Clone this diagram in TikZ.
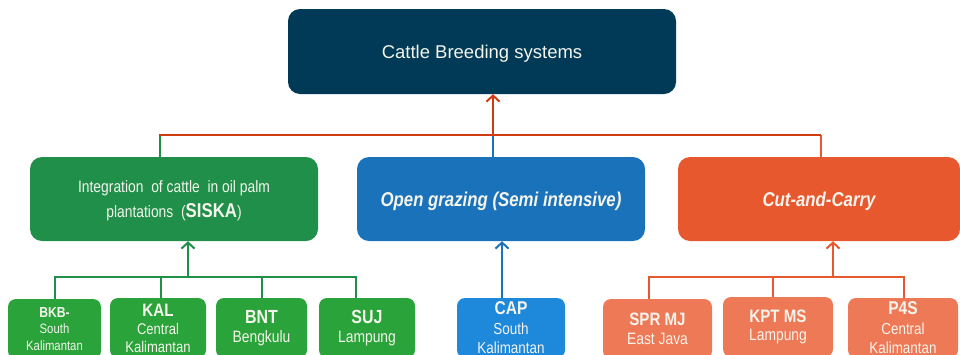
\documentclass[tikz,border=0pt]{standalone}
\usepackage{fontspec}
\setmainfont{Liberation Sans}
\newfontfamily\narrow{Liberation Sans}[FakeStretch=0.84]
\usetikzlibrary{arrows.meta}
\definecolor{navy}{HTML}{003A57}
\definecolor{gdark}{HTML}{1F8F4A}
\definecolor{gbright}{HTML}{2AA33A}
\definecolor{bdark}{HTML}{1A72BA}
\definecolor{bbright}{HTML}{1E88DA}
\definecolor{odark}{HTML}{E8582E}
\definecolor{osalmon}{HTML}{EE7956}
\definecolor{redline}{HTML}{D13A0F}
\definecolor{txt}{HTML}{F4F4EC}
\tikzset{
  box/.style={rounded corners=12pt, draw=none, text=txt, align=center, inner sep=0pt},
  small/.style={rounded corners=8pt, draw=none, text=txt, align=center, inner sep=0pt, minimum height=60pt},
  conn/.style={line width=2pt},
  arr/.style={line width=2pt, -{Straight Barb[length=6pt,width=13pt,line width=2pt]}},
  f3/.style={font=\narrow\fontsize{16}{19.5}\selectfont},
  f2/.style={font=\narrow\fontsize{16.5}{19.5}\selectfont},
}
\begin{document}
\begin{tikzpicture}[x=1pt,y=-1pt]
\useasboundingbox (0,0) rectangle (960,354);
\clip (0,0) rectangle (960,354);
% main boxes
\node[box, fill=navy, minimum width=388pt, minimum height=85pt, text depth=0pt, font=\fontsize{18.5}{22}\selectfont] (top) at (482,51.5) {Cattle Breeding systems};
\node[box, fill=gdark, minimum width=288pt, minimum height=84pt, text depth=0pt, font=\narrow\fontsize{16.5}{25}\selectfont] (siska) at (174,199)
  {Integration\ \ of cattle\ \ in oil palm\\ plantations\ \ ({\fontsize{20}{25}\selectfont\bfseries SISKA})};
\node[box, fill=bdark, minimum width=288pt, minimum height=84pt, text depth=0pt, font=\narrow\fontsize{20}{24}\selectfont\bfseries\itshape] (open) at (501,199)
  {Open grazing (Semi intensive)};
\node[box, fill=odark, minimum width=282pt, minimum height=84pt, text depth=0pt, font=\narrow\fontsize{20}{24}\selectfont\bfseries\itshape] (cut) at (819,199)
  {Cut-and-Carry};
% bottom boxes
\node[small, fill=gbright, minimum width=93pt, font=\narrow\fontsize{13.5}{16.5}\selectfont] (bkb) at (54.5,329)
  {{\fontsize{14.5}{16.5}\selectfont\bfseries BKB-}\\South\\Kalimantan};
\node[small, fill=gbright, minimum width=96pt, font=\narrow\fontsize{15.5}{18}\selectfont] (kal) at (158,328)
  {{\fontsize{18}{18}\selectfont\bfseries KAL}\\Central\\Kalimantan};
\node[small, fill=gbright, minimum width=91pt, f2] (bnt) at (261.5,328)
  {{\fontsize{19}{20}\selectfont\bfseries BNT}\\Bengkulu};
\node[small, fill=gbright, minimum width=96pt, f2] (suj) at (367,328)
  {{\fontsize{19}{20}\selectfont\bfseries SUJ}\\Lampung};
\node[small, fill=bbright, minimum width=108pt, f3] (cap) at (511,328)
  {{\fontsize{18.5}{19.5}\selectfont\bfseries CAP}\\South\\Kalimantan};
\node[small, fill=osalmon, minimum width=109pt, f2] (spr) at (657.5,329)
  {{\fontsize{18}{19.5}\selectfont\bfseries SPR MJ}\\East Java};
\node[small, fill=osalmon, minimum width=110pt, font=\narrow\fontsize{16.5}{17.5}\selectfont] (kpt) at (778,327)
  {{\fontsize{18}{17.5}\selectfont\bfseries KPT MS}\\Lampung};
\node[small, fill=osalmon, minimum width=110pt, f3] (p4s) at (903,328)
  {{\fontsize{18.5}{19.5}\selectfont\bfseries P4S}\\Central\\Kalimantan};
% junctions
\coordinate (jt) at (493,135);
\coordinate (jg) at (188,277);
\coordinate (jo) at (833,277);
% top level connectors
\draw[conn, gdark] ([xshift=-14pt]siska.north) -- ([xshift=-14pt]siska.north |- jt);
\draw[conn, bdark] (open.north -| jt) -- (jt);
\draw[conn, odark] (cut.north -| 821,0) -- (821,135);
\draw[conn, redline] ([xshift=-15pt]siska.north |- jt) -- (821,135);
\draw[arr, redline] (jt) -- (top.south -| jt);
% green group
\draw[conn, gdark] (bkb.north) -- (bkb.north |- jg);
\draw[conn, gdark] ([xshift=3pt]kal.north) -- ([xshift=3pt]kal.north |- jg);
\draw[conn, gdark] (bnt.north) -- (bnt.north |- jg);
\draw[conn, gdark] ([xshift=-11pt]suj.north) -- ([xshift=-11pt]suj.north |- jg);
\draw[conn, gdark] ([xshift=-1pt]bkb.north |- jg) -- ([xshift=-10pt]suj.north |- jg);
\draw[arr, gdark] (jg) -- (siska.south -| jg);
% blue
\draw[arr, bdark] ([xshift=-9pt]cap.north) -- ([xshift=-9pt]cap.north |- open.south);
% orange group
\draw[conn, odark] ([xshift=-8.5pt]spr.north) -- ([xshift=-8.5pt]spr.north |- jo);
\draw[conn, odark] ([xshift=-5pt]kpt.north) -- ([xshift=-5pt]kpt.north |- jo);
\draw[conn, odark] ([xshift=1pt]p4s.north) -- ([xshift=1pt]p4s.north |- jo);
\draw[conn, odark] ([xshift=-9.5pt]spr.north |- jo) -- ([xshift=2pt]p4s.north |- jo);
\draw[arr, odark] (jo) -- (cut.south -| jo);
\end{tikzpicture}
\end{document}
